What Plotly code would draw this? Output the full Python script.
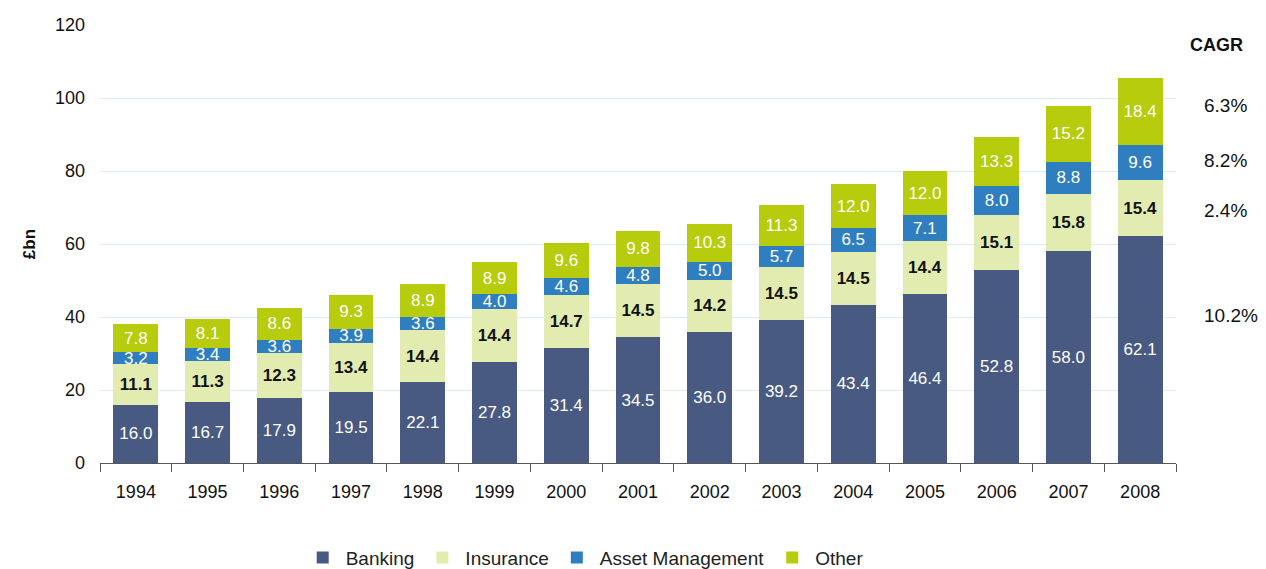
import plotly.graph_objects as go

years = ["1994", "1995", "1996", "1997", "1998", "1999", "2000", "2001",
         "2002", "2003", "2004", "2005", "2006", "2007", "2008"]
banking = [16.0, 16.7, 17.9, 19.5, 22.1, 27.8, 31.4, 34.5, 36.0, 39.2, 43.4, 46.4, 52.8, 58.0, 62.1]
insurance = [11.1, 11.3, 12.3, 13.4, 14.4, 14.4, 14.7, 14.5, 14.2, 14.5, 14.5, 14.4, 15.1, 15.8, 15.4]
asset_mgmt = [3.2, 3.4, 3.6, 3.9, 3.6, 4.0, 4.6, 4.8, 5.0, 5.7, 6.5, 7.1, 8.0, 8.8, 9.6]
other = [7.8, 8.1, 8.6, 9.3, 8.9, 8.9, 9.6, 9.8, 10.3, 11.3, 12.0, 12.0, 13.3, 15.2, 18.4]

cagr_labels = ["6.3%", "8.2%", "2.4%", "10.2%"]
cagr_y = [98, 83, 69.3, 40.3]

FONT = "Liberation Sans, Arial, sans-serif"

series = [
    ("Banking", banking, "#485a82", "white", "normal"),
    ("Insurance", insurance, "#e3ecb0", "#111111", "bold"),
    ("Asset Management", asset_mgmt, "#2f7fc0", "white", "normal"),
    ("Other", other, "#b6cc0c", "white", "normal"),
]

fig = go.Figure()
for name, vals, color, tcolor, weight in series:
    fig.add_trace(go.Bar(
        x=years, y=vals, name=name,
        marker=dict(color=color, line=dict(width=0)),
        text=[f"{v:.1f}" for v in vals],
        textposition="inside", insidetextanchor="middle", textangle=0,
        textfont=dict(color=tcolor, size=17, family=FONT, weight=weight),
        cliponaxis=False,
    ))

annotations = [dict(text="<b>CAGR</b>", x=1.011, y=114.5, xref="paper", yref="y",
                    xanchor="left", yanchor="middle", showarrow=False,
                    font=dict(size=18, color="#111"))]
for lab, yy in zip(cagr_labels, cagr_y):
    annotations.append(dict(text=lab, x=1.024, y=yy, xref="paper", yref="y",
                            xanchor="left", yanchor="middle", showarrow=False,
                            font=dict(size=19, color="#111")))

fig.update_layout(
    width=1266, height=569,
    barmode="stack", bargap=0.375,
    paper_bgcolor="white", plot_bgcolor="white",
    margin=dict(l=92, r=98, t=17, b=114, autoexpand=False),
    font=dict(family=FONT, size=18, color="#111"),
    uniformtext=dict(minsize=17, mode="show"),
    legend=dict(orientation="h", x=0.45, xanchor="center",
                yref="container", y=0.034, yanchor="middle",
                font=dict(size=19, color="#222"), traceorder="normal",
                itemwidth=36, bgcolor="rgba(0,0,0,0)"),
    annotations=annotations,
    xaxis=dict(type="category", showline=True, linecolor="#555", linewidth=1,
               ticks="outside", tickson="boundaries", ticklen=8, tickcolor="#555",
               showgrid=False, ticklabelstandoff=12, automargin=False,
               tickfont=dict(size=18, color="#111")),
    yaxis=dict(range=[0, 120], dtick=20, showgrid=True, gridcolor="#dcecf6",
               gridwidth=1, zeroline=False, showline=False, ticklabelstandoff=14,
               automargin=False,
               title=dict(text="<b>£bn</b>", font=dict(size=17), standoff=15),
               tickfont=dict(size=18, color="#111")),
)

fig.write_html("out.html")
